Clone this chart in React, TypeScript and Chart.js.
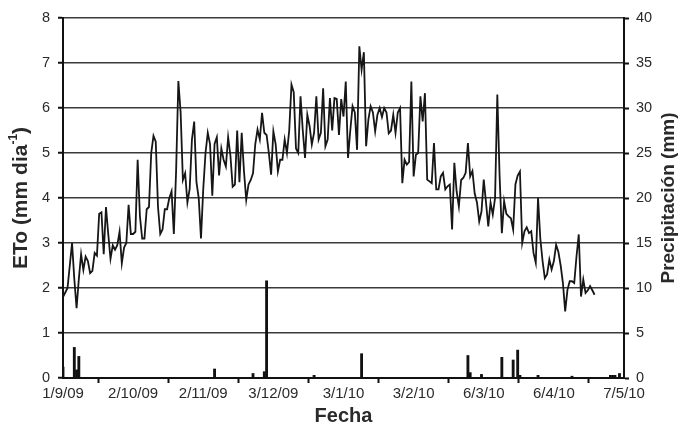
import React, { useEffect, useRef } from "react";
import { Chart, registerables } from "chart.js";

Chart.register(...registerables);

// X axis: day index since 1/9/09, labels every 31 days
const tickDays = [0, 31, 62, 93, 124, 155, 186, 217, 248];
const tickLabels = ["1/9/09", "2/10/09", "2/11/09", "3/12/09", "3/1/10", "3/2/10", "6/3/10", "6/4/10", "7/5/10"];

// Daily reference evapotranspiration (mm/day), starting 1/9/09
const etoValues = [
  1.8, 1.9, 2.0, 2.5, 3.0, 2.2, 1.55, 2.2, 2.75, 2.4,
  2.7, 2.6, 2.33, 2.38, 2.78, 2.72, 3.65, 3.68, 2.75, 3.8,
  3.2, 2.65, 2.95, 2.85, 2.95, 3.25, 2.55, 2.9, 3.0, 3.85,
  3.2, 3.2, 3.25, 4.85, 3.6, 3.1, 3.1, 3.75, 3.8, 5.0,
  5.38, 5.25, 3.8, 3.2, 3.3, 3.75, 3.75, 4.0, 4.15, 3.2,
  4.6, 6.6, 5.9, 4.4, 4.55, 3.9, 4.2, 5.3, 5.7, 4.35,
  4.0, 3.1, 4.2, 5.0, 5.45, 5.2, 4.05, 5.2, 5.35, 4.5,
  5.1, 4.85, 4.7, 5.35, 4.95, 4.25, 4.3, 5.5, 4.35, 5.45,
  4.6, 3.96, 4.3, 4.4, 4.55, 5.2, 5.52, 5.3, 5.89, 5.45,
  5.4, 5.0, 4.52, 5.48, 5.2, 4.59, 4.85, 4.85, 5.3, 5.0,
  5.5, 6.52, 6.35, 5.1, 5.0, 6.26, 5.5, 4.89, 5.85, 5.6,
  5.19, 5.45, 6.26, 5.3, 5.45, 6.44, 5.15, 5.3, 6.22, 5.5,
  6.22, 6.2, 5.4, 6.2, 5.81, 6.59, 4.89, 5.5, 6.04, 5.9,
  5.07, 7.37, 6.85, 7.24, 5.15, 5.74, 6.04, 5.9, 5.48, 5.85,
  6.0, 5.8, 6.0, 5.9, 5.44, 5.5, 5.85, 5.45, 5.9, 6.0,
  4.33, 4.85, 4.74, 4.8, 6.59, 4.48, 4.96, 5.0, 6.26, 5.7,
  6.33, 4.41, 4.37, 4.33, 5.22, 4.19, 4.19, 4.48, 4.56, 4.19,
  4.26, 4.3, 3.3, 4.78, 4.15, 3.81, 4.4, 4.45, 4.56, 5.22,
  4.48, 4.6, 4.1, 3.9, 3.48, 3.7, 4.41, 3.9, 3.37, 3.9,
  3.63, 4.0, 6.3, 4.5, 3.22, 3.93, 3.65, 3.59, 3.55, 3.3,
  4.3, 4.5, 4.59, 3.0, 3.26, 3.35, 3.22, 3.26, 2.78, 2.56,
  4.0, 3.1, 2.6, 2.22, 2.3, 2.63, 2.41, 2.6, 2.96, 2.8,
  2.5, 2.11, 1.48, 1.96, 2.15, 2.15, 2.11, 2.7, 3.19, 1.81,
  2.19, 1.89, 1.95, 2.04, 1.95, 1.85,
];

// Precipitation events (day index, mm)
const rainDays = [0, 5, 6, 7, 67, 84, 89, 90, 111, 132, 179, 180, 185, 194, 199, 201, 202, 210, 225, 242, 243, 244, 246];
const rainValues = [1.2, 3.4, 0.9, 2.4, 1.0, 0.5, 0.7, 10.8, 0.3, 2.7, 2.5, 0.6, 0.4, 2.3, 2.0, 3.1, 0.3, 0.3, 0.2, 0.3, 0.3, 0.3, 0.5];

const FONT = "'Liberation Sans', Arial, sans-serif";
const TEXT = "#2a2a2a";

const titlesPlugin = {
  id: "titles",
  afterDraw(chart: any) {
    const ctx = chart.ctx;
    const area = chart.chartArea;
    const cy = (area.top + area.bottom) / 2;
    ctx.save();
    ctx.fillStyle = TEXT;
    // Left title with superscript
    ctx.translate(21, cy);
    ctx.rotate(-Math.PI / 2);
    const mainFont = `bold 21px ${FONT}`;
    const supFont = `bold 12px ${FONT}`;
    ctx.font = mainFont;
    const p1 = "ETo (mm dia";
    const p3 = ")";
    const w1 = ctx.measureText(p1).width;
    const w3 = ctx.measureText(p3).width;
    ctx.font = supFont;
    const p2 = "-1";
    const w2 = ctx.measureText(p2).width;
    const total = w1 + w2 + w3;
    let x = -total / 2;
    ctx.textBaseline = "middle";
    ctx.textAlign = "left";
    ctx.font = mainFont;
    ctx.fillText(p1, x, 0);
    x += w1;
    ctx.font = supFont;
    ctx.fillText(p2, x, -7);
    x += w2;
    ctx.font = mainFont;
    ctx.fillText(p3, x, 0);
    ctx.restore();

    // Right title
    ctx.save();
    ctx.fillStyle = TEXT;
    ctx.translate(669, cy);
    ctx.rotate(-Math.PI / 2);
    ctx.font = `bold 19px ${FONT}`;
    ctx.textAlign = "center";
    ctx.textBaseline = "middle";
    ctx.fillText("Precipitación (mm)", 0, 0);
    ctx.restore();

    // Bottom title
    ctx.save();
    ctx.fillStyle = TEXT;
    ctx.font = `bold 20px ${FONT}`;
    ctx.textAlign = "center";
    ctx.textBaseline = "middle";
    ctx.fillText("Fecha", (area.left + area.right) / 2, 416);
    ctx.restore();
  },
};

export default function App() {
  const canvasRef = useRef<HTMLCanvasElement | null>(null);

  useEffect(() => {
    const canvas = canvasRef.current;
    if (!canvas) return;
    const chart = new Chart(canvas, {
      type: "line",
      data: {
        datasets: [
          {
            type: "line",
            label: "ETo",
            data: etoValues.map((v, i) => ({ x: i, y: v })),
            borderColor: "#161616",
            borderWidth: 1.8,
            pointRadius: 0,
            tension: 0,
            yAxisID: "y",
            order: 1,
          } as any,
          {
            type: "bar",
            label: "Precipitación",
            data: rainDays.map((d, i) => ({ x: d, y: rainValues[i] })),
            backgroundColor: "#111111",
            borderWidth: 0,
            barThickness: 2.2,
            yAxisID: "y1",
            order: 2,
          } as any,
        ],
      },
      options: {
        responsive: false,
        animation: false,
        devicePixelRatio: 1,
        layout: { padding: { top: 18, left: 0, right: 0, bottom: 0 } },
        plugins: {
          legend: { display: false },
          tooltip: { enabled: false },
        },
        scales: {
          x: {
            type: "linear",
            min: 0,
            max: 248,
            offset: false,
            afterBuildTicks: (scale: any) => {
              scale.ticks = tickDays.map((v) => ({ value: v }));
            },
            afterFit: (scale: any) => {
              scale.height = 54;
            },
            ticks: {
              autoSkip: false,
              maxRotation: 0,
              color: TEXT,
              padding: 2,
              font: { family: FONT, size: 15 },
              callback: (value: any) => {
                const idx = tickDays.indexOf(Number(value));
                return idx >= 0 ? tickLabels[idx] : "";
              },
            },
            grid: {
              drawOnChartArea: false,
              drawTicks: true,
              tickLength: 5,
              tickColor: "#111",
              tickWidth: 2,
            },
            border: { display: true, color: "#111", width: 2 },
          },
          y: {
            type: "linear",
            position: "left",
            min: 0,
            max: 8,
            afterFit: (scale: any) => {
              scale.width = 63;
            },
            ticks: {
              stepSize: 1,
              color: TEXT,
              padding: 8,
              font: { family: FONT, size: 14.5 },
            },
            grid: {
              drawOnChartArea: true,
              color: "#3a3a3a",
              lineWidth: 1.5,
              drawTicks: true,
              tickLength: 5,
              tickColor: "#111",
              tickWidth: 2,
            },
            border: { display: true, color: "#111", width: 2 },
          },
          y1: {
            type: "linear",
            position: "right",
            min: 0,
            max: 40,
            afterFit: (scale: any) => {
              scale.width = 60;
            },
            ticks: {
              stepSize: 5,
              color: TEXT,
              padding: 7,
              font: { family: FONT, size: 14.5 },
            },
            grid: {
              drawOnChartArea: false,
              drawTicks: true,
              tickLength: 5,
              tickColor: "#111",
              tickWidth: 2,
            },
            border: { display: true, color: "#111", width: 2 },
          },
        },
      },
      plugins: [titlesPlugin],
    });
    return () => chart.destroy();
  }, []);

  return (
    <div style={{ position: "fixed", left: 0, top: 0, width: 684, height: 432, background: "#fff" }}>
      <canvas ref={canvasRef} width={684} height={432} style={{ display: "block" }} />
    </div>
  );
}
